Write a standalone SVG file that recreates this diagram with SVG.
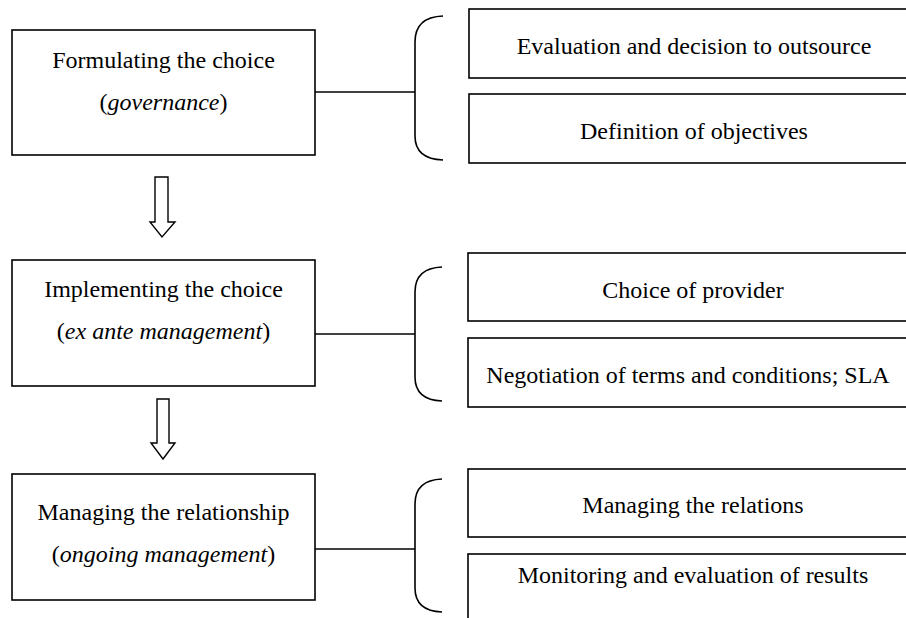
<svg xmlns="http://www.w3.org/2000/svg" width="906" height="618" viewBox="0 0 906 618">
<style>
.box{fill:#fff;stroke:#000;stroke-width:1.6}
.t{font-size:24px;fill:#000;text-anchor:middle}
.i{font-style:italic}
.ln{fill:none;stroke:#000;stroke-width:1.6}
.arr{fill:#fff;stroke:#000;stroke-width:1.4;stroke-linejoin:miter}
</style>
<rect width="906" height="618" fill="#fff"/>
<g id="connectors">
<line class="ln" x1="315" y1="92" x2="415" y2="92"/>
<line class="ln" x1="315" y1="334" x2="415" y2="334"/>
<line class="ln" x1="315" y1="549" x2="415" y2="549"/>
<path id="brace1" class="ln" d="M443,16 Q415,17 415,42 V136 Q415,159 443,160"/>
<path id="brace2" class="ln" d="M442,267 Q415,268 415,292 V377 Q415,400 442,401"/>
<path id="brace3" class="ln" d="M442,479 Q415,480 415,504 V588 Q415,611 442,612"/>
<path id="arrow1" class="arr" d="M155,177 H168 V222 H175 L162,237 L150,222 H155 Z"/>
<path id="arrow2" class="arr" d="M157,399 H169 V443 H175 L163,459 L151,443 H157 Z"/>
</g>
<g font-family="'Liberation Serif', 'DejaVu Serif', serif">
<g id="formulating">
<rect class="box" x="12" y="30" width="303" height="125"/>
<text class="t" x="163.5" y="68">Formulating the choice</text>
<text class="t" x="163.5" y="110">(<tspan class="i">governance</tspan>)</text>
</g>
<g id="implementing">
<rect class="box" x="12" y="260" width="303" height="126"/>
<text class="t" x="163.5" y="297">Implementing the choice</text>
<text class="t" x="163.5" y="339">(<tspan class="i">ex ante management</tspan>)</text>
</g>
<g id="managing">
<rect class="box" x="12" y="474" width="303" height="126"/>
<text class="t" x="163.5" y="520">Managing the relationship</text>
<text class="t" x="163.5" y="562">(<tspan class="i">ongoing management</tspan>)</text>
</g>
<g id="evaluation">
<rect class="box" x="469" y="9" width="460" height="69"/>
<text class="t" x="694" y="54">Evaluation and decision to outsource</text>
</g>
<g id="objectives">
<rect class="box" x="469" y="94" width="460" height="69"/>
<text class="t" x="694" y="139">Definition of objectives</text>
</g>
<g id="provider">
<rect class="box" x="468" y="253" width="460" height="68"/>
<text class="t" x="693" y="298">Choice of provider</text>
</g>
<g id="negotiation">
<rect class="box" x="468" y="338" width="460" height="69"/>
<text class="t" x="688" y="383">Negotiation of terms and conditions; SLA</text>
</g>
<g id="relations">
<rect class="box" x="468" y="469" width="460" height="68"/>
<text class="t" x="693" y="513">Managing the relations</text>
</g>
<g id="monitoring">
<rect class="box" x="468" y="554" width="460" height="90"/>
<text class="t" x="693" y="583">Monitoring and evaluation of results</text>
</g>
</g>
</svg>
